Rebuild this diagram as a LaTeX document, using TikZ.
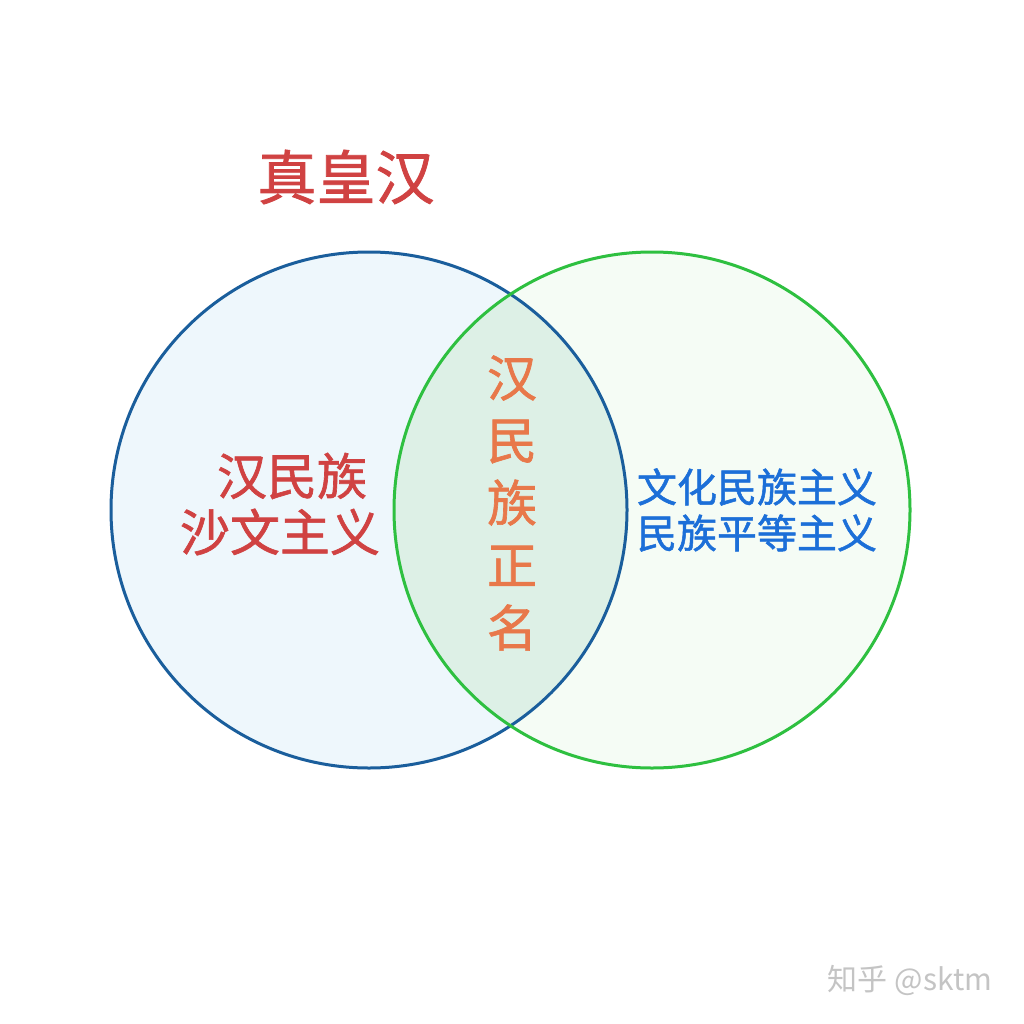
\documentclass[tikz,border=0pt]{standalone}
\usepackage{fontspec}
\newfontfamily\cjk[FakeBold=1.3]{Noto Sans CJK SC}
\newfontfamily\cjkthin{Noto Sans CJK SC}
\definecolor{bluestroke}{HTML}{1A5E9C}
\definecolor{greenstroke}{HTML}{2EC040}
\definecolor{bluefill}{HTML}{EEF7FC}
\definecolor{greenfill}{HTML}{F5FCF5}
\definecolor{midfill}{HTML}{DDF0E6}
\definecolor{redtxt}{HTML}{D04242}
\definecolor{orangetxt}{HTML}{E8784A}
\definecolor{bluetxt}{HTML}{1C6FD8}
\definecolor{graytxt}{HTML}{C4C4C4}
\tikzset{
  ring/.style={line width=3pt},
  lbl/.style={inner sep=0pt},
}
\begin{document}
\begin{tikzpicture}[x=1pt,y=-1pt]
\useasboundingbox[fill=white] (0,0) rectangle (1024,1024);
\fill[bluefill] (369,510) circle (258);
\fill[greenfill] (652,510) circle (258);
\begin{scope}
  \clip (369,510) circle (258);
  \fill[midfill] (652,510) circle (258);
\end{scope}
\draw[ring, bluestroke] (369,510) circle (258);
\draw[ring, greenstroke] (652,510) circle (258);
\node[lbl, text=redtxt, font=\cjk\fontsize{59}{60}\selectfont] (title) at (346,177) {真皇汉};
\node[lbl, text=redtxt, font=\cjk\fontsize{50}{57}\selectfont] (left1) at (292,476) {汉民族};
\node[lbl, text=redtxt, font=\cjk\fontsize{50}{57}\selectfont] (left2) at (280,532) {沙文主义};
\node[lbl, text=orangetxt, align=center, font=\cjk\fontsize{50}{62.5}\selectfont] (mid) at (512,503) {汉\\民\\族\\正\\名};
\node[lbl, text=bluetxt, align=center, font=\cjk\fontsize{40}{46}\selectfont] (right) at (757,510) {文化民族主义\\民族平等主义};
\node[lbl, text=graytxt, font=\cjkthin\fontsize{30}{30}\selectfont] (mark) at (910,980) {知乎 @sktm};
\end{tikzpicture}
\end{document}
